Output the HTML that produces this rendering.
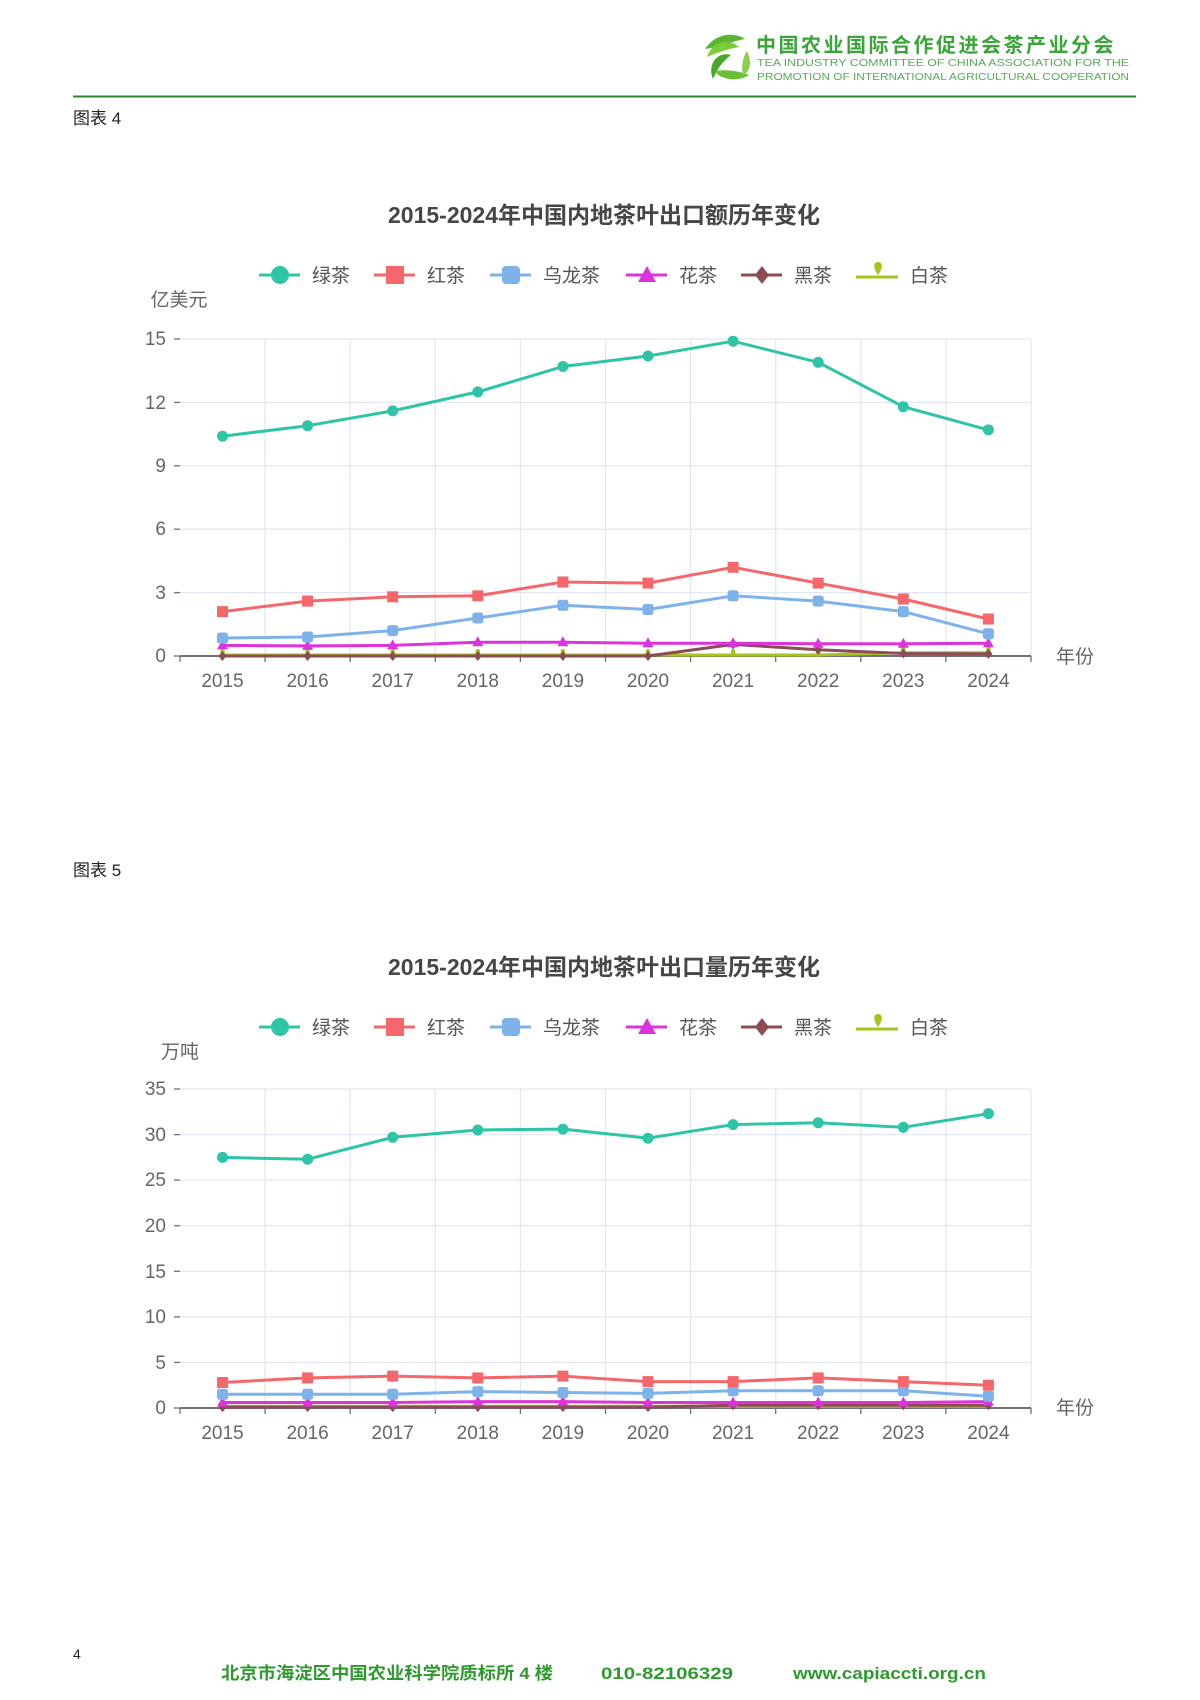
<!DOCTYPE html>
<html><head><meta charset="utf-8"><style>
html,body{margin:0;padding:0;background:#fff;}
body{width:1200px;height:1700px;position:relative;overflow:hidden;font-family:"Liberation Sans","Noto Sans CJK SC",sans-serif;}
</style></head><body>
<svg width="1200" height="1700" xmlns="http://www.w3.org/2000/svg" style="position:absolute;left:0;top:0" font-family="Liberation Sans, Noto Sans CJK SC, sans-serif">
<defs>
<g id="mc"><circle r="5.5" fill="#2ec4a6"/></g>
<g id="ms"><rect x="-5.5" y="-5.5" width="11" height="11" fill="#f5676a"/></g>
<g id="mb"><rect x="-5.5" y="-5.5" width="11" height="11" rx="2.5" fill="#7eb2ea"/></g>
<g id="mt"><polygon points="0,-6 5.5,4 -5.5,4" fill="#dd33dd"/></g>
<g id="md"><polygon points="0,-5 4,0 0,5 -4,0" fill="#8c4c55"/></g>
<g id="mp"><path d="M0,-6 C3,-6 3,-2 0,3 C-3,-2 -3,-6 0,-6Z" fill="#a6c41c"/></g>
</defs>
<!-- header -->
<g transform="translate(727,57)">
<path d="M-22,-8 C-10,-26 10,-24 18,-18 C6,-16 -8,-10 -22,-8Z" fill="#5cb531"/>
<path d="M-20,0 C-14,-18 4,-18 12,-10 C0,-8 -10,-4 -20,0Z" fill="#7ccc3c"/>
<path d="M-14,22 C-20,8 -10,-6 4,-2 C-4,4 -10,12 -14,22Z" fill="#4aa62a"/>
<path d="M22,18 C10,26 -8,22 -12,14 C0,12 12,14 22,18Z" fill="#6ac034"/>
<path d="M20,-6 C26,6 22,16 16,18 C14,8 16,0 20,-6Z" fill="#8ad048"/>
</g>
<text x="756" y="52" font-size="20" font-weight="bold" fill="#3aa63a" letter-spacing="2.5" font-family="Noto Sans CJK SC, sans-serif">中国农业国际合作促进会茶产业分会</text>
<text x="757" y="66" font-size="10.5" fill="#5aa85a" textLength="372" lengthAdjust="spacingAndGlyphs">TEA INDUSTRY COMMITTEE OF CHINA ASSOCIATION FOR THE</text>
<text x="757" y="80" font-size="10.5" fill="#5aa85a" textLength="372" lengthAdjust="spacingAndGlyphs">PROMOTION OF INTERNATIONAL AGRICULTURAL COOPERATION</text>
<line x1="73" y1="96.5" x2="1136" y2="96.5" stroke="#2f8a2f" stroke-width="2"/>
<text x="73" y="124" font-size="17" fill="#222">图表 4</text>
<text x="73" y="876" font-size="17" fill="#222">图表 5</text>

<!-- legends -->
<g font-size="19" fill="#555" transform="translate(0,275)">
<line x1="259" y1="0" x2="300" y2="0" stroke="#2ec4a6" stroke-width="3"/><circle cx="280" cy="0" r="9" fill="#2ec4a6"/><text x="312" y="7">绿茶</text>
<line x1="374" y1="0" x2="415" y2="0" stroke="#f5676a" stroke-width="3"/><rect x="386" y="-9" width="18" height="18" fill="#f5676a"/><text x="427" y="7">红茶</text>
<line x1="490" y1="0" x2="531" y2="0" stroke="#7eb2ea" stroke-width="3"/><rect x="502" y="-9" width="18" height="18" rx="4" fill="#7eb2ea"/><text x="543" y="7">乌龙茶</text>
<line x1="626" y1="0" x2="667" y2="0" stroke="#dd33dd" stroke-width="3"/><polygon points="647,-9 656,7 638,7" fill="#dd33dd"/><text x="679" y="7">花茶</text>
<line x1="741" y1="0" x2="782" y2="0" stroke="#8c4c55" stroke-width="3"/><polygon points="762,-9 769,0 762,9 755,0" fill="#8c4c55"/><text x="794" y="7">黑茶</text>
<line x1="856" y1="2" x2="898" y2="2" stroke="#a6c41c" stroke-width="3"/><path d="M878,-13 C883,-13 883,-7 878,0 C873,-7 873,-13 878,-13Z" fill="#a6c41c"/><text x="910" y="7">白茶</text>
</g>
<g font-size="19" fill="#555" transform="translate(0,1027)">
<line x1="259" y1="0" x2="300" y2="0" stroke="#2ec4a6" stroke-width="3"/><circle cx="280" cy="0" r="9" fill="#2ec4a6"/><text x="312" y="7">绿茶</text>
<line x1="374" y1="0" x2="415" y2="0" stroke="#f5676a" stroke-width="3"/><rect x="386" y="-9" width="18" height="18" fill="#f5676a"/><text x="427" y="7">红茶</text>
<line x1="490" y1="0" x2="531" y2="0" stroke="#7eb2ea" stroke-width="3"/><rect x="502" y="-9" width="18" height="18" rx="4" fill="#7eb2ea"/><text x="543" y="7">乌龙茶</text>
<line x1="626" y1="0" x2="667" y2="0" stroke="#dd33dd" stroke-width="3"/><polygon points="647,-9 656,7 638,7" fill="#dd33dd"/><text x="679" y="7">花茶</text>
<line x1="741" y1="0" x2="782" y2="0" stroke="#8c4c55" stroke-width="3"/><polygon points="762,-9 769,0 762,9 755,0" fill="#8c4c55"/><text x="794" y="7">黑茶</text>
<line x1="856" y1="2" x2="898" y2="2" stroke="#a6c41c" stroke-width="3"/><path d="M878,-13 C883,-13 883,-7 878,0 C873,-7 873,-13 878,-13Z" fill="#a6c41c"/><text x="910" y="7">白茶</text>
</g>

<!-- ===== Chart 1 ===== -->
<text x="604" y="223" font-size="23" font-weight="bold" fill="#464646" text-anchor="middle">2015-2024年中国内地茶叶出口额历年变化</text>
<text x="179" y="306" font-size="19" fill="#666" text-anchor="middle">亿美元</text>
<g stroke="#e4e7f3" stroke-width="1.3">
<line x1="180" y1="339" x2="1031" y2="339"/><line x1="180" y1="402.4" x2="1031" y2="402.4"/><line x1="180" y1="465.8" x2="1031" y2="465.8"/><line x1="180" y1="529.2" x2="1031" y2="529.2"/><line x1="180" y1="592.6" x2="1031" y2="592.6"/>
<line x1="265.1" y1="339" x2="265.1" y2="656"/><line x1="350.2" y1="339" x2="350.2" y2="656"/><line x1="435.3" y1="339" x2="435.3" y2="656"/><line x1="520.4" y1="339" x2="520.4" y2="656"/><line x1="605.5" y1="339" x2="605.5" y2="656"/><line x1="690.6" y1="339" x2="690.6" y2="656"/><line x1="775.7" y1="339" x2="775.7" y2="656"/><line x1="860.8" y1="339" x2="860.8" y2="656"/><line x1="945.9" y1="339" x2="945.9" y2="656"/><line x1="1031" y1="339" x2="1031" y2="656"/>
</g>
<g stroke="#6e7079" stroke-width="1.3">
<line x1="180" y1="656" x2="1031" y2="656" stroke-width="2"/>
<line x1="174" y1="339" x2="180" y2="339"/><line x1="174" y1="402.4" x2="180" y2="402.4"/><line x1="174" y1="465.8" x2="180" y2="465.8"/><line x1="174" y1="529.2" x2="180" y2="529.2"/><line x1="174" y1="592.6" x2="180" y2="592.6"/><line x1="174" y1="656" x2="180" y2="656"/>
<line x1="180" y1="656" x2="180" y2="662"/><line x1="265.1" y1="656" x2="265.1" y2="662"/><line x1="350.2" y1="656" x2="350.2" y2="662"/><line x1="435.3" y1="656" x2="435.3" y2="662"/><line x1="520.4" y1="656" x2="520.4" y2="662"/><line x1="605.5" y1="656" x2="605.5" y2="662"/><line x1="690.6" y1="656" x2="690.6" y2="662"/><line x1="775.7" y1="656" x2="775.7" y2="662"/><line x1="860.8" y1="656" x2="860.8" y2="662"/><line x1="945.9" y1="656" x2="945.9" y2="662"/><line x1="1031" y1="656" x2="1031" y2="662"/>
</g>
<g font-size="19" fill="#666" text-anchor="end">
<text x="166" y="345">15</text><text x="166" y="409">12</text><text x="166" y="472">9</text><text x="166" y="535">6</text><text x="166" y="599">3</text><text x="166" y="662">0</text>
</g>
<g font-size="19" fill="#666" text-anchor="middle">
<text x="222.5" y="687">2015</text><text x="307.6" y="687">2016</text><text x="392.7" y="687">2017</text><text x="477.8" y="687">2018</text><text x="562.9" y="687">2019</text><text x="648" y="687">2020</text><text x="733.1" y="687">2021</text><text x="818.2" y="687">2022</text><text x="903.3" y="687">2023</text><text x="988.4" y="687">2024</text>
</g>
<text x="1056" y="663" font-size="19" fill="#666">年份</text>
<g fill="none" stroke-width="3" stroke-linejoin="round">
<polyline stroke="#a6c41c" points="222.5,655 307.6,655 392.7,655 477.8,655 562.9,655 648,655 733.1,655 818.2,655 903.3,652.8 988.4,652.8"/>
<polyline stroke="#8c4c55" points="222.5,656 307.6,656 392.7,656 477.8,656 562.9,656 648,656 733.1,644.4 818.2,649.7 903.3,653.5 988.4,653.9"/>
<polyline stroke="#dd33dd" points="222.5,645.4 307.6,645.9 392.7,645.4 477.8,642.3 562.9,642.3 648,643.3 733.1,643.3 818.2,643.7 903.3,643.7 988.4,643.3"/>
<polyline stroke="#7eb2ea" points="222.5,638 307.6,637 392.7,630.6 477.8,618 562.9,605.3 648,609.5 733.1,595.8 818.2,601.1 903.3,611.6 988.4,633.8"/>
<polyline stroke="#f5676a" points="222.5,611.6 307.6,601.1 392.7,596.8 477.8,595.8 562.9,582 648,583.1 733.1,567.3 818.2,583.1 903.3,599 988.4,619"/>
<polyline stroke="#2ec4a6" points="222.5,436.2 307.6,425.7 392.7,410.9 477.8,391.9 562.9,366.5 648,356 733.1,341.2 818.2,362.3 903.3,406.7 988.4,429.9"/>
</g>
<use href="#mp" x="222.5" y="655"/><use href="#mp" x="307.6" y="655"/><use href="#mp" x="392.7" y="655"/><use href="#mp" x="477.8" y="655"/><use href="#mp" x="562.9" y="655"/><use href="#mp" x="648" y="655"/><use href="#mp" x="733.1" y="655"/><use href="#mp" x="818.2" y="655"/><use href="#mp" x="903.3" y="652.8"/><use href="#mp" x="988.4" y="652.8"/>
<use href="#md" x="222.5" y="656"/><use href="#md" x="307.6" y="656"/><use href="#md" x="392.7" y="656"/><use href="#md" x="477.8" y="656"/><use href="#md" x="562.9" y="656"/><use href="#md" x="648" y="656"/><use href="#md" x="733.1" y="644.4"/><use href="#md" x="818.2" y="649.7"/><use href="#md" x="903.3" y="653.5"/><use href="#md" x="988.4" y="653.9"/>
<use href="#mt" x="222.5" y="645.4"/><use href="#mt" x="307.6" y="645.9"/><use href="#mt" x="392.7" y="645.4"/><use href="#mt" x="477.8" y="642.3"/><use href="#mt" x="562.9" y="642.3"/><use href="#mt" x="648" y="643.3"/><use href="#mt" x="733.1" y="643.3"/><use href="#mt" x="818.2" y="643.7"/><use href="#mt" x="903.3" y="643.7"/><use href="#mt" x="988.4" y="643.3"/>
<use href="#mb" x="222.5" y="638"/><use href="#mb" x="307.6" y="637"/><use href="#mb" x="392.7" y="630.6"/><use href="#mb" x="477.8" y="618"/><use href="#mb" x="562.9" y="605.3"/><use href="#mb" x="648" y="609.5"/><use href="#mb" x="733.1" y="595.8"/><use href="#mb" x="818.2" y="601.1"/><use href="#mb" x="903.3" y="611.6"/><use href="#mb" x="988.4" y="633.8"/>
<use href="#ms" x="222.5" y="611.6"/><use href="#ms" x="307.6" y="601.1"/><use href="#ms" x="392.7" y="596.8"/><use href="#ms" x="477.8" y="595.8"/><use href="#ms" x="562.9" y="582"/><use href="#ms" x="648" y="583.1"/><use href="#ms" x="733.1" y="567.3"/><use href="#ms" x="818.2" y="583.1"/><use href="#ms" x="903.3" y="599"/><use href="#ms" x="988.4" y="619"/>
<use href="#mc" x="222.5" y="436.2"/><use href="#mc" x="307.6" y="425.7"/><use href="#mc" x="392.7" y="410.9"/><use href="#mc" x="477.8" y="391.9"/><use href="#mc" x="562.9" y="366.5"/><use href="#mc" x="648" y="356"/><use href="#mc" x="733.1" y="341.2"/><use href="#mc" x="818.2" y="362.3"/><use href="#mc" x="903.3" y="406.7"/><use href="#mc" x="988.4" y="429.9"/>

<!-- ===== Chart 2 ===== -->
<text x="604" y="975" font-size="23" font-weight="bold" fill="#464646" text-anchor="middle">2015-2024年中国内地茶叶出口量历年变化</text>
<text x="180" y="1058" font-size="19" fill="#666" text-anchor="middle">万吨</text>
<g stroke="#e4e7f3" stroke-width="1.3">
<line x1="180" y1="1089" x2="1031" y2="1089"/><line x1="180" y1="1134.6" x2="1031" y2="1134.6"/><line x1="180" y1="1180.1" x2="1031" y2="1180.1"/><line x1="180" y1="1225.7" x2="1031" y2="1225.7"/><line x1="180" y1="1271.3" x2="1031" y2="1271.3"/><line x1="180" y1="1316.9" x2="1031" y2="1316.9"/><line x1="180" y1="1362.4" x2="1031" y2="1362.4"/>
<line x1="265.1" y1="1089" x2="265.1" y2="1408"/><line x1="350.2" y1="1089" x2="350.2" y2="1408"/><line x1="435.3" y1="1089" x2="435.3" y2="1408"/><line x1="520.4" y1="1089" x2="520.4" y2="1408"/><line x1="605.5" y1="1089" x2="605.5" y2="1408"/><line x1="690.6" y1="1089" x2="690.6" y2="1408"/><line x1="775.7" y1="1089" x2="775.7" y2="1408"/><line x1="860.8" y1="1089" x2="860.8" y2="1408"/><line x1="945.9" y1="1089" x2="945.9" y2="1408"/><line x1="1031" y1="1089" x2="1031" y2="1408"/>
</g>
<g stroke="#6e7079" stroke-width="1.3">
<line x1="180" y1="1408" x2="1031" y2="1408" stroke-width="2"/>
<line x1="174" y1="1089" x2="180" y2="1089"/><line x1="174" y1="1134.6" x2="180" y2="1134.6"/><line x1="174" y1="1180.1" x2="180" y2="1180.1"/><line x1="174" y1="1225.7" x2="180" y2="1225.7"/><line x1="174" y1="1271.3" x2="180" y2="1271.3"/><line x1="174" y1="1316.9" x2="180" y2="1316.9"/><line x1="174" y1="1362.4" x2="180" y2="1362.4"/><line x1="174" y1="1408" x2="180" y2="1408"/>
<line x1="180" y1="1408" x2="180" y2="1414"/><line x1="265.1" y1="1408" x2="265.1" y2="1414"/><line x1="350.2" y1="1408" x2="350.2" y2="1414"/><line x1="435.3" y1="1408" x2="435.3" y2="1414"/><line x1="520.4" y1="1408" x2="520.4" y2="1414"/><line x1="605.5" y1="1408" x2="605.5" y2="1414"/><line x1="690.6" y1="1408" x2="690.6" y2="1414"/><line x1="775.7" y1="1408" x2="775.7" y2="1414"/><line x1="860.8" y1="1408" x2="860.8" y2="1414"/><line x1="945.9" y1="1408" x2="945.9" y2="1414"/><line x1="1031" y1="1408" x2="1031" y2="1414"/>
</g>
<g font-size="19" fill="#666" text-anchor="end">
<text x="166" y="1095">35</text><text x="166" y="1141">30</text><text x="166" y="1186">25</text><text x="166" y="1232">20</text><text x="166" y="1278">15</text><text x="166" y="1323">10</text><text x="166" y="1369">5</text><text x="166" y="1414">0</text>
</g>
<g font-size="19" fill="#666" text-anchor="middle">
<text x="222.5" y="1439">2015</text><text x="307.6" y="1439">2016</text><text x="392.7" y="1439">2017</text><text x="477.8" y="1439">2018</text><text x="562.9" y="1439">2019</text><text x="648" y="1439">2020</text><text x="733.1" y="1439">2021</text><text x="818.2" y="1439">2022</text><text x="903.3" y="1439">2023</text><text x="988.4" y="1439">2024</text>
</g>
<text x="1056" y="1414" font-size="19" fill="#666">年份</text>
<g fill="none" stroke-width="3" stroke-linejoin="round">
<polyline stroke="#a6c41c" points="222.5,1406.2 307.6,1406.2 392.7,1406.2 477.8,1406.2 562.9,1406.2 648,1406.2 733.1,1406.2 818.2,1406.2 903.3,1406.2 988.4,1406.2"/>
<polyline stroke="#8c4c55" points="222.5,1407.1 307.6,1407.1 392.7,1407.1 477.8,1407.1 562.9,1407.1 648,1407.1 733.1,1405.3 818.2,1405.3 903.3,1405.3 988.4,1405.3"/>
<polyline stroke="#dd33dd" points="222.5,1402.5 307.6,1402.5 392.7,1402.5 477.8,1401.6 562.9,1401.6 648,1402.5 733.1,1402.5 818.2,1402.5 903.3,1402.5 988.4,1401.6"/>
<polyline stroke="#7eb2ea" points="222.5,1394.3 307.6,1394.3 392.7,1394.3 477.8,1391.6 562.9,1392.5 648,1393.4 733.1,1390.7 818.2,1390.7 903.3,1390.7 988.4,1396.2"/>
<polyline stroke="#f5676a" points="222.5,1382.5 307.6,1377.9 392.7,1376.1 477.8,1377.9 562.9,1376.1 648,1381.6 733.1,1381.6 818.2,1377.9 903.3,1381.6 988.4,1385.2"/>
<polyline stroke="#2ec4a6" points="222.5,1157.4 307.6,1159.2 392.7,1137.3 477.8,1130 562.9,1129.1 648,1138.2 733.1,1124.6 818.2,1122.7 903.3,1127.3 988.4,1113.6"/>
</g>
<use href="#mp" x="222.5" y="1406.2"/><use href="#mp" x="307.6" y="1406.2"/><use href="#mp" x="392.7" y="1406.2"/><use href="#mp" x="477.8" y="1406.2"/><use href="#mp" x="562.9" y="1406.2"/><use href="#mp" x="648" y="1406.2"/><use href="#mp" x="733.1" y="1406.2"/><use href="#mp" x="818.2" y="1406.2"/><use href="#mp" x="903.3" y="1406.2"/><use href="#mp" x="988.4" y="1406.2"/>
<use href="#md" x="222.5" y="1407.1"/><use href="#md" x="307.6" y="1407.1"/><use href="#md" x="392.7" y="1407.1"/><use href="#md" x="477.8" y="1407.1"/><use href="#md" x="562.9" y="1407.1"/><use href="#md" x="648" y="1407.1"/><use href="#md" x="733.1" y="1405.3"/><use href="#md" x="818.2" y="1405.3"/><use href="#md" x="903.3" y="1405.3"/><use href="#md" x="988.4" y="1405.3"/>
<use href="#mt" x="222.5" y="1402.5"/><use href="#mt" x="307.6" y="1402.5"/><use href="#mt" x="392.7" y="1402.5"/><use href="#mt" x="477.8" y="1401.6"/><use href="#mt" x="562.9" y="1401.6"/><use href="#mt" x="648" y="1402.5"/><use href="#mt" x="733.1" y="1402.5"/><use href="#mt" x="818.2" y="1402.5"/><use href="#mt" x="903.3" y="1402.5"/><use href="#mt" x="988.4" y="1401.6"/>
<use href="#mb" x="222.5" y="1394.3"/><use href="#mb" x="307.6" y="1394.3"/><use href="#mb" x="392.7" y="1394.3"/><use href="#mb" x="477.8" y="1391.6"/><use href="#mb" x="562.9" y="1392.5"/><use href="#mb" x="648" y="1393.4"/><use href="#mb" x="733.1" y="1390.7"/><use href="#mb" x="818.2" y="1390.7"/><use href="#mb" x="903.3" y="1390.7"/><use href="#mb" x="988.4" y="1396.2"/>
<use href="#ms" x="222.5" y="1382.5"/><use href="#ms" x="307.6" y="1377.9"/><use href="#ms" x="392.7" y="1376.1"/><use href="#ms" x="477.8" y="1377.9"/><use href="#ms" x="562.9" y="1376.1"/><use href="#ms" x="648" y="1381.6"/><use href="#ms" x="733.1" y="1381.6"/><use href="#ms" x="818.2" y="1377.9"/><use href="#ms" x="903.3" y="1381.6"/><use href="#ms" x="988.4" y="1385.2"/>
<use href="#mc" x="222.5" y="1157.4"/><use href="#mc" x="307.6" y="1159.2"/><use href="#mc" x="392.7" y="1137.3"/><use href="#mc" x="477.8" y="1130"/><use href="#mc" x="562.9" y="1129.1"/><use href="#mc" x="648" y="1138.2"/><use href="#mc" x="733.1" y="1124.6"/><use href="#mc" x="818.2" y="1122.7"/><use href="#mc" x="903.3" y="1127.3"/><use href="#mc" x="988.4" y="1113.6"/>

<!-- footer -->
<text x="73" y="1659" font-size="14" fill="#222">4</text>
<g font-size="17" font-weight="bold" fill="#2e9a2e">
<text x="221" y="1679" textLength="332" lengthAdjust="spacingAndGlyphs">北京市海淀区中国农业科学院质标所 4 楼</text>
<text x="601" y="1679" textLength="132" lengthAdjust="spacingAndGlyphs">010-82106329</text>
<text x="793" y="1679" textLength="193" lengthAdjust="spacingAndGlyphs">www.capiaccti.org.cn</text>
</g>
</svg>
</body></html>
